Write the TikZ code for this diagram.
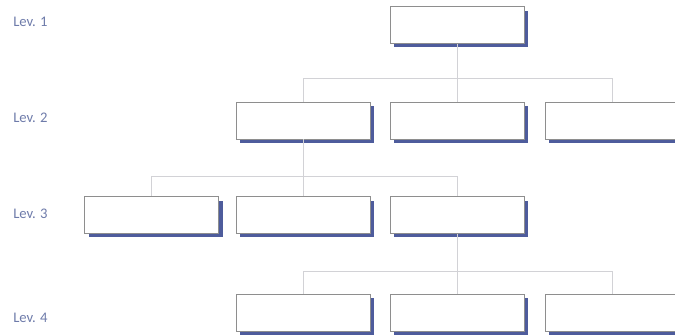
\documentclass[tikz,border=0pt]{standalone}
\usepackage{fontspec}
\newfontfamily\levfont{Carlito}
\usetikzlibrary{shadows}
\definecolor{boxgray}{HTML}{8E8E8E}
\definecolor{linegray}{HTML}{D2D2D6}
\definecolor{shadowblue}{HTML}{4E5C9C}
\definecolor{levblue}{HTML}{6E7BAA}
\begin{document}
\begin{tikzpicture}[x=0.75pt, y=-0.75pt,
	box/.style={draw=boxgray, fill=white, inner sep=0pt,
		minimum width=100.5pt, minimum height=27.5pt,
		drop shadow={shadow xshift=3pt, shadow yshift=-3pt, fill=shadowblue, opacity=1}},
	link/.style={draw=linegray, thin},
	lev/.style={anchor=west, inner sep=0pt, text=levblue, font=\levfont\fontsize{11}{13}\selectfont}]
	\useasboundingbox (0,0) rectangle (675,335);
	
	% Etiquetas de nivel
	\node[lev] (lev1) at (13,22) {Lev. 1};
	\node[lev] (lev2) at (13,118) {Lev. 2};
	\node[lev] (lev3) at (13,214) {Lev. 3};
	\node[lev] (lev4) at (13,318) {Lev. 4};
	
	% Nivel 1
	\node[box] (c1) at (457,25) {};
	
	% Nivel 2
	\node[box] (b2) at (303,120.5) {};
	\node[box] (c2) at (457,120.5) {};
	\node[box] (d2) at (612,120.5) {};
	
	% Nivel 3
	\node[box] (a3) at (151.5,215) {};
	\node[box] (b3) at (303,215) {};
	\node[box] (c3) at (457,215) {};
	
	% Nivel 4
	\node[box] (b4) at (303,312.5) {};
	\node[box] (c4) at (457,312.5) {};
	\node[box] (d4) at (612,312.5) {};
	
	% Conectores 1 -> 2
	\coordinate (bus1) at (c1.south |- 0,78);
	\draw[link] (c1.south) -- (bus1);
	\foreach \n in {b2,c2,d2}
		\draw[link] (bus1) -| (\n.north);
	
	% Conectores 2 -> 3
	\coordinate (bus2) at (b2.south |- 0,176);
	\draw[link] (b2.south) -- (bus2);
	\foreach \n in {a3,b3,c3}
		\draw[link] (bus2) -| (\n.north);
	
	% Conectores 3 -> 4
	\coordinate (bus3) at (c3.south |- 0,271);
	\draw[link] (c3.south) -- (bus3);
	\foreach \n in {b4,c4,d4}
		\draw[link] (bus3) -| (\n.north);
\end{tikzpicture}
\end{document}
